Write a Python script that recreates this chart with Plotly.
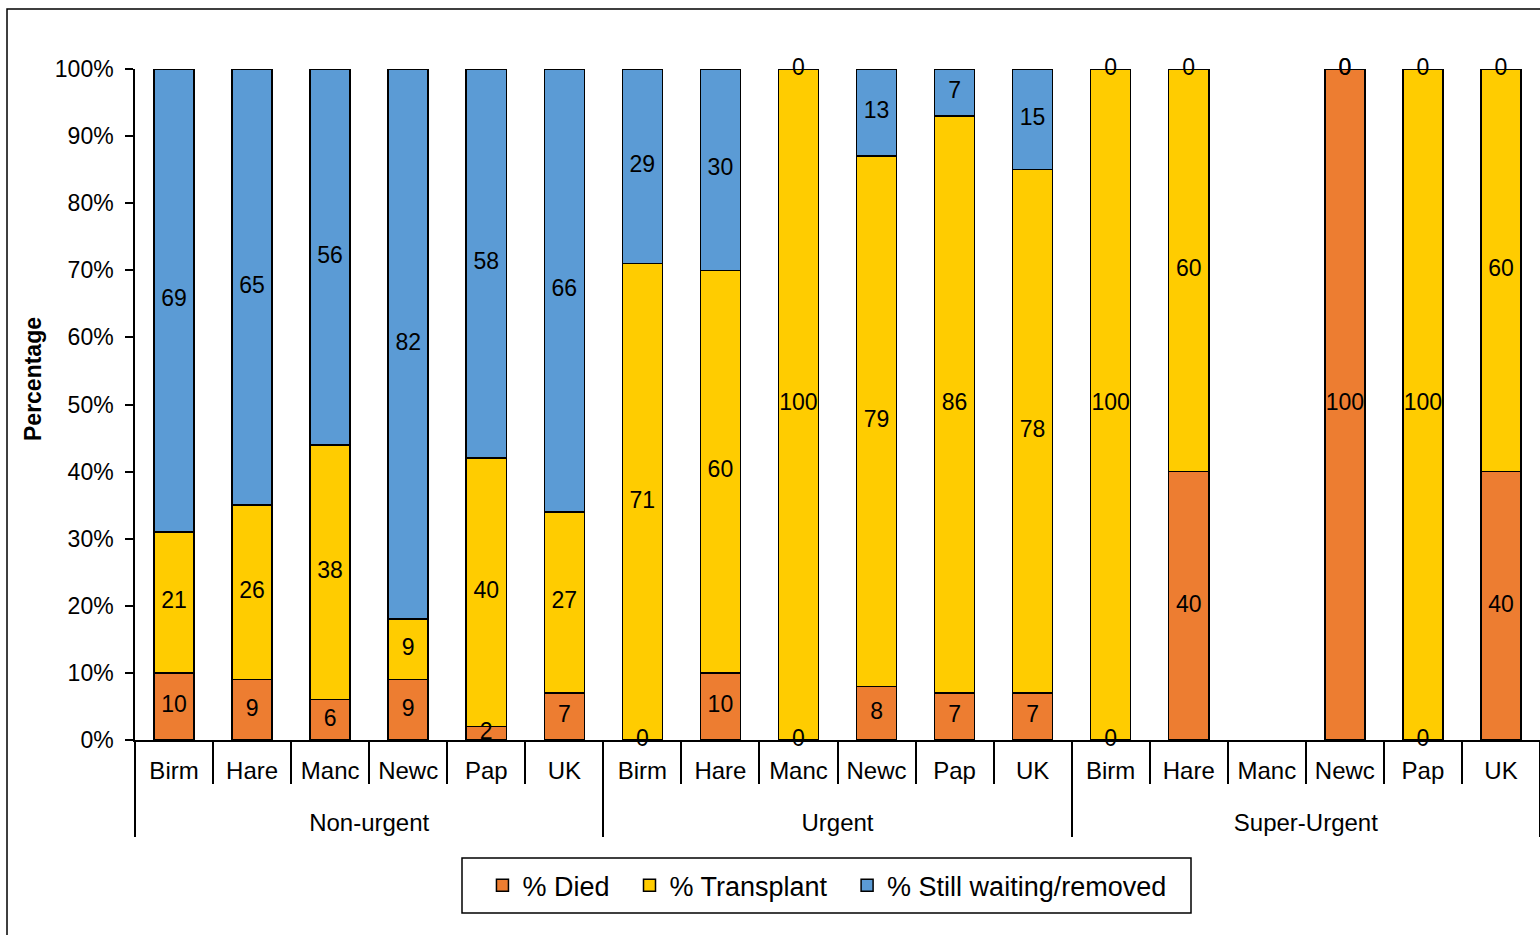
import plotly.graph_objects as go

# Outcome at 1 year by centre and urgency group (percentages)
group_names = ["Non-urgent", "Urgent", "Super-Urgent"]
centre_names = ["Birm", "Hare", "Manc", "Newc", "Pap", "UK"]

died = [10, 9, 6, 9, 2, 7,
        0, 10, 0, 8, 7, 7,
        0, 40, None, 100, 0, 40]
transplant = [21, 26, 38, 9, 40, 27,
              71, 60, 100, 79, 86, 78,
              100, 60, None, 0, 100, 60]
waiting = [69, 65, 56, 82, 58, 66,
           29, 30, 0, 13, 7, 15,
           0, 0, None, 0, 0, 0]

series_names = ["% Died", "% Transplant", "% Still waiting/removed"]
colours = ["#ED7D31", "#FFCC00", "#5B9BD5"]
series = list(zip(series_names, [died, transplant, waiting], colours))

# two-level category axis; group labels pushed onto a second line
groups = [g for g in group_names for _ in centre_names]
centres = centre_names * len(group_names)
group_ticks = ["<br>" + g for g in groups]
xcats = [group_ticks, centres]

FONT = "Liberation Sans, Arial, sans-serif"
fig = go.Figure()

legend_pad = ["\u00a0\u00a0", "\u00a0\u00a0", ""]
for (name, vals, colour), pad in zip(series, legend_pad):
    fig.add_trace(go.Bar(
        name=name + pad,
        x=xcats,
        y=vals,
        marker=dict(color=colour, line=dict(color="black", width=1.5)),
        hoverinfo="skip",
    ))

# Value labels at the middle of each stacked segment (zero segments included)
lx_g, lx_c, ly, lt = [], [], [], []
for i in range(len(centres)):
    base = 0
    for _, vals, _ in series:
        v = vals[i]
        if v is None:
            continue
        lx_g.append(group_ticks[i])
        lx_c.append(centres[i])
        ly.append(base + v / 2)
        lt.append(str(v))
        base += v

fig.add_trace(go.Scatter(
    x=[lx_g, lx_c], y=ly, text=lt, mode="text",
    textfont=dict(family=FONT, size=23, color="black"),
    showlegend=False, hoverinfo="skip", cliponaxis=False,
))

fig.update_layout(
    width=1540, height=935,
    barmode="stack", bargap=0.487,
    paper_bgcolor="white", plot_bgcolor="white",
    margin=dict(l=135, r=0, t=69, b=195),
    font=dict(family=FONT, size=23, color="black"),
    legend=dict(
        orientation="h", x=0.2473, xanchor="left", y=-0.1805, yanchor="top",
        borderwidth=0, bgcolor="rgba(0,0,0,0)", font=dict(size=27),
        traceorder="normal", itemwidth=30,
    ),
    shapes=[
        # chart frame
        dict(type="rect", xref="paper", yref="paper",
             x0=-0.0911, x1=1.05, y0=-0.5, y1=1.0894,
             line=dict(color="black", width=1.5),
             fillcolor="rgba(0,0,0,0)", layer="below"),
        # legend frame
        dict(type="rect", xref="paper", yref="paper",
             x0=(462 - 135) / 1405, x1=(1191 - 135) / 1405,
             y0=(740 - 913) / 671, y1=(740 - 858) / 671,
             line=dict(color="black", width=1.5),
             fillcolor="rgba(0,0,0,0)", layer="below"),
    ],
    annotations=[dict(
        text="<b>Percentage</b>", textangle=-90,
        xref="paper", yref="paper",
        x=(33 - 135) / 1405, y=(740 - 379) / 671,
        xanchor="center", yanchor="middle", showarrow=False,
        font=dict(size=23),
    )],
)

fig.update_yaxes(
    range=[0, 100], dtick=10, ticksuffix="%",
    showgrid=False, zeroline=False,
    showline=True, linecolor="black", linewidth=1.5,
    ticks="outside", ticklen=8, tickwidth=1.5, tickcolor="black",
    ticklabelstandoff=7,
)
fig.update_xaxes(
    range=[-0.5, 17.5],
    showgrid=False, showline=True, linecolor="black", linewidth=1.5,
    ticks="outside", tickson="boundaries", ticklen=42, tickwidth=1.5,
    tickcolor="black",
    showdividers=True, dividercolor="black", dividerwidth=1.5,
    tickfont=dict(size=24), ticklabelstandoff=8,
)

fig.write_html("out.html")
